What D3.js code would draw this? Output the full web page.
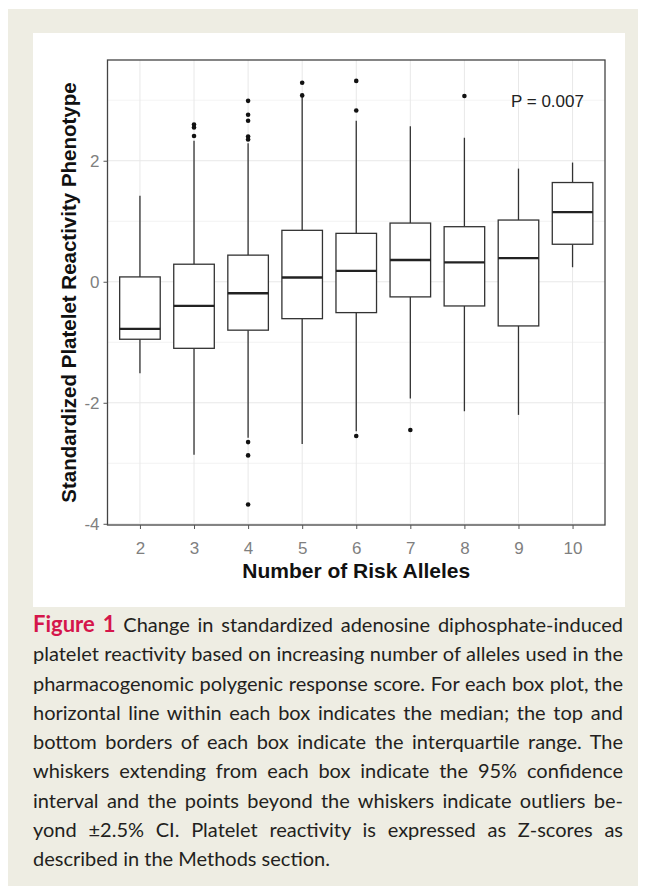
<!DOCTYPE html>
<html lang="en">
<head>
<meta charset="utf-8">
<title>Figure 1</title>
<script src="https://cdn.jsdelivr.net/npm/d3@7"></script>
<style>
  body { margin: 0; background: #fff; }
  svg { display: block; }
</style>
</head>
<body>
<script>

// number of risk alleles (x categories)
var alleles = ["2", "3", "4", "5", "6", "7", "8", "9", "10"];

// box plot stats (Z-scores)
var whiskerLow  = [-1.51, -2.86, -2.58, -2.68, -2.47, -1.93, -2.14, -2.20, 0.24];
var q1          = [-0.95, -1.10, -0.80, -0.61, -0.51, -0.25, -0.40, -0.73, 0.62];
var median      = [-0.78, -0.40, -0.19, 0.07, 0.18, 0.36, 0.32, 0.39, 1.15];
var q3          = [0.08, 0.29, 0.44, 0.85, 0.80, 0.97, 0.91, 1.02, 1.64];
var whiskerHigh = [1.42, 2.33, 2.29, 3.06, 2.66, 2.57, 2.38, 1.87, 1.97];

// outliers for each category
var outliers = [
  [],
  [2.60, 2.55, 2.41],
  [2.99, 2.76, 2.66, 2.40, 2.35, -2.65, -2.87, -3.68],
  [3.29, 3.08],
  [3.32, 2.83, -2.55],
  [-2.45],
  [3.07],
  [],
  []
];

var yTicks = [-4, -2, 0, 2];
var yMinor = [-3, -1, 1, 3];
var pLabel = "P = 0.007";

var figLabel = "Figure 1";
var captionLines = [
  "Change in standardized adenosine diphosphate-induced",
  "platelet reactivity based on increasing number of alleles used in the",
  "pharmacogenomic polygenic response score. For each box plot, the",
  "horizontal line within each box indicates the median; the top and",
  "bottom borders of each box indicate the interquartile range. The",
  "whiskers extending from each box indicate the 95% confidence",
  "interval and the points beyond the whiskers indicate outliers be-",
  "yond \u00b12.5% CI. Platelet reactivity is expressed as Z-scores as",
  "described in the Methods section."
];

var W = 646, H = 891;
var plot = { left: 107.5, right: 605, top: 60, bottom: 525 };
var axisFont = "'Liberation Sans', Arial, sans-serif";

var svg = d3.select("body").append("svg")
  .attr("width", W)
  .attr("height", H);

// page background
svg.append("rect")
  .attr("x", 8).attr("y", 9)
  .attr("width", 630).attr("height", 877)
  .attr("fill", "#eeede3");

svg.append("rect")
  .attr("x", 33).attr("y", 33)
  .attr("width", 592).attr("height", 574)
  .attr("fill", "#fff");

var x = d3.scalePoint()
  .domain(alleles)
  .range([plot.left, plot.right])
  .padding(0.6);

var y = d3.scaleLinear()
  .domain([-4.02, 3.665])
  .range([plot.bottom, plot.top]);

var boxW = x.step() * 0.75;

var rows = alleles.map(function(a, i) {
  return { a: a, lo: whiskerLow[i], q1: q1[i], med: median[i], q3: q3[i], hi: whiskerHigh[i], out: outliers[i] };
});

// grid
var grid = svg.append("g");
grid.selectAll(".minor")
  .data(yMinor)
  .enter().append("line")
  .attr("x1", plot.left).attr("x2", plot.right)
  .attr("y1", function(d) { return y(d); })
  .attr("y2", function(d) { return y(d); })
  .attr("stroke", "#f0f0f0")
  .attr("stroke-width", 0.8);
grid.selectAll(".major")
  .data(yTicks)
  .enter().append("line")
  .attr("x1", plot.left).attr("x2", plot.right)
  .attr("y1", function(d) { return y(d); })
  .attr("y2", function(d) { return y(d); })
  .attr("stroke", "#e8e8e8")
  .attr("stroke-width", 1);
grid.selectAll(".vert")
  .data(alleles)
  .enter().append("line")
  .attr("x1", function(d) { return x(d); })
  .attr("x2", function(d) { return x(d); })
  .attr("y1", plot.top).attr("y2", plot.bottom)
  .attr("stroke", "#e8e8e8")
  .attr("stroke-width", 1);

// boxes
var boxes = svg.append("g").selectAll("g")
  .data(rows)
  .enter().append("g");

boxes.append("line")
  .attr("x1", function(d) { return x(d.a); })
  .attr("x2", function(d) { return x(d.a); })
  .attr("y1", function(d) { return y(d.hi); })
  .attr("y2", function(d) { return y(d.q3); })
  .attr("stroke", "#333").attr("stroke-width", 1.3);

boxes.append("line")
  .attr("x1", function(d) { return x(d.a); })
  .attr("x2", function(d) { return x(d.a); })
  .attr("y1", function(d) { return y(d.q1); })
  .attr("y2", function(d) { return y(d.lo); })
  .attr("stroke", "#333").attr("stroke-width", 1.3);

boxes.append("rect")
  .attr("x", function(d) { return x(d.a) - boxW / 2; })
  .attr("y", function(d) { return y(d.q3); })
  .attr("width", boxW)
  .attr("height", function(d) { return y(d.q1) - y(d.q3); })
  .attr("fill", "#fff")
  .attr("stroke", "#333").attr("stroke-width", 1.3);

boxes.append("line")
  .attr("x1", function(d) { return x(d.a) - boxW / 2; })
  .attr("x2", function(d) { return x(d.a) + boxW / 2; })
  .attr("y1", function(d) { return y(d.med); })
  .attr("y2", function(d) { return y(d.med); })
  .attr("stroke", "#222").attr("stroke-width", 2.3);

boxes.selectAll("circle")
  .data(function(d) { return d.out.map(function(v) { return { a: d.a, v: v }; }); })
  .enter().append("circle")
  .attr("cx", function(d) { return x(d.a); })
  .attr("cy", function(d) { return y(d.v); })
  .attr("r", 2.3)
  .attr("fill", "#111");

// panel border
svg.append("rect")
  .attr("x", plot.left).attr("y", plot.top)
  .attr("width", plot.right - plot.left)
  .attr("height", plot.bottom - plot.top)
  .attr("fill", "none")
  .attr("stroke", "#444")
  .attr("stroke-width", 1.3);

// axes (plain hyphen for negatives, like the original)
var yAxis = d3.axisLeft(y)
  .tickValues(yTicks)
  .tickFormat(function(d) { return String(d); })
  .tickSize(4)
  .tickPadding(4);
var gy = svg.append("g")
  .attr("transform", "translate(" + plot.left + ",0)")
  .call(yAxis);
gy.select(".domain").remove();
gy.selectAll(".tick line").attr("stroke", "#555");
gy.selectAll(".tick text")
  .attr("font-family", axisFont)
  .attr("font-size", 17)
  .attr("fill", "#7f7f7f");

var xAxis = d3.axisBottom(x).tickSize(4).tickPadding(13);
var gx = svg.append("g")
  .attr("transform", "translate(0," + plot.bottom + ")")
  .call(xAxis);
gx.select(".domain").remove();
gx.selectAll(".tick line").attr("stroke", "#555");
gx.selectAll(".tick text")
  .attr("font-family", axisFont)
  .attr("font-size", 17)
  .attr("fill", "#7f7f7f");

// axis titles
svg.append("text")
  .attr("x", (plot.left + plot.right) / 2)
  .attr("y", 578)
  .attr("text-anchor", "middle")
  .attr("font-family", axisFont)
  .attr("font-weight", "bold")
  .attr("font-size", 21)
  .attr("fill", "#111")
  .text("Number of Risk Alleles");

svg.append("text")
  .attr("transform", "translate(76," + (plot.top + plot.bottom) / 2 + ") rotate(-90)")
  .attr("text-anchor", "middle")
  .attr("font-family", axisFont)
  .attr("font-weight", "bold")
  .attr("font-size", 20.5)
  .attr("fill", "#111")
  .text("Standardized Platelet Reactivity Phenotype");

svg.append("text")
  .attr("x", 511)
  .attr("y", 106.5)
  .attr("font-family", axisFont)
  .attr("font-size", 17)
  .attr("fill", "#222")
  .text(pLabel);

// caption, justified line by line
var capLeft = 33, capWidth = 590, capTop = 632, capStep = 29.25;
captionLines.forEach(function(line, i) {
  var t = svg.append("text")
    .attr("x", capLeft)
    .attr("y", capTop + i * capStep)
    .attr("font-family", "Lato, 'Open Sans', sans-serif")
    .attr("font-size", 20)
    .attr("fill", "#231f20");
  var full = line;
  if (i == 0) {
    t.append("tspan")
      .attr("fill", "#d5164b")
      .attr("font-weight", "bold")
      .attr("font-size", 22)
      .text(figLabel);
    t.append("tspan").text(" " + line);
    full = figLabel + " " + line;
  } else {
    t.text(line);
  }
  if (i < captionLines.length - 1) {
    var natural = t.node().getComputedTextLength();
    var spaces = full.split(" ").length - 1;
    t.attr("word-spacing", (capWidth - natural) / spaces);
  }
});

</script>
</body>
</html>
